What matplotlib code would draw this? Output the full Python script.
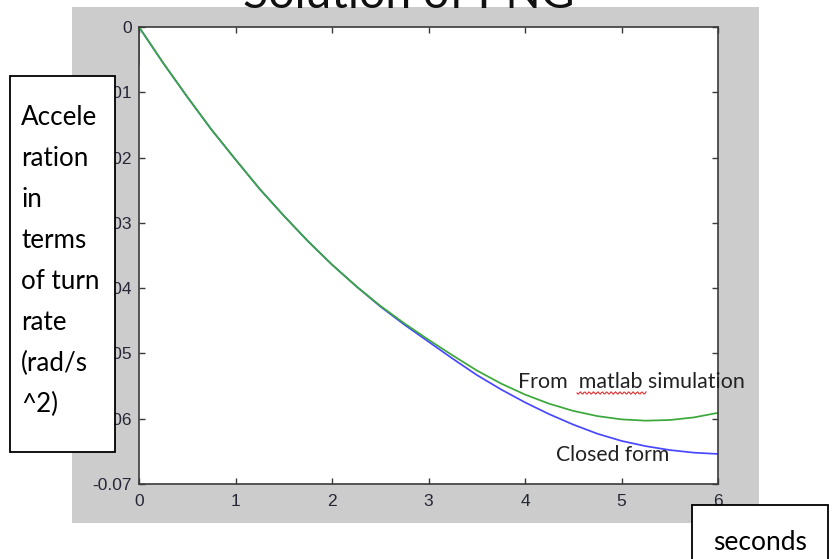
import numpy as np
import matplotlib
matplotlib.use("Agg")
import matplotlib.pyplot as plt
from matplotlib.patches import Rectangle
from matplotlib.lines import Line2D

# ---- data -------------------------------------------------------------
t_sim = [0.0, 0.0, 0.25, 0.5, 0.75, 1.0, 1.25, 1.5, 1.75, 2.0, 2.25, 2.5,
         2.75, 3.0, 3.25, 3.5, 3.75, 4.0, 4.25, 4.5, 4.75, 5.0, 5.25, 5.5,
         5.75, 6.0]
acc_sim = [-0.0058, 0.0, -0.0055, -0.0107, -0.0157, -0.0203, -0.0248,
           -0.0289, -0.0328, -0.0364, -0.0397, -0.0427, -0.0454, -0.0479,
           -0.0503, -0.0526, -0.0546, -0.0563, -0.0577, -0.0588, -0.0596,
           -0.0601, -0.0603, -0.0602, -0.0598, -0.0591]

t_closed = [0.0, 0.25, 0.5, 0.75, 1.0, 1.25, 1.5, 1.75, 2.0, 2.25, 2.5,
            2.75, 3.0, 3.25, 3.5, 3.75, 4.0, 4.25, 4.5, 4.75, 5.0, 5.25,
            5.5, 5.75, 6.0]
acc_closed = [0.0, -0.0055, -0.0107, -0.0157, -0.0203, -0.0248, -0.0289,
              -0.0328, -0.0364, -0.0397, -0.0428, -0.0456, -0.0482, -0.0508,
              -0.0533, -0.0555, -0.0575, -0.0593, -0.0609, -0.0623, -0.0634,
              -0.0642, -0.0648, -0.0652, -0.0654]

x_ticks = [0, 1, 2, 3, 4, 5, 6]
x_tick_labels = ["0", "1", "2", "3", "4", "5", "6"]
y_ticks = [0, -0.01, -0.02, -0.03, -0.04, -0.05, -0.06, -0.07]
y_tick_labels = ["0", "-0.01", "-0.02", "-0.03", "-0.04", "-0.05", "-0.06", "-0.07"]

title_text = "Solution of PNG"
ylabel_text = "Accele\nration\nin\nterms\nof turn\nrate\n(rad/s\n^2)"
xlabel_text = "seconds"
sim_label = "From  matlab simulation"
closed_label = "Closed form"

# ---- figure -----------------------------------------------------------
W, H = 838, 559
fig = plt.figure(figsize=(W / 100, H / 100), dpi=100, facecolor="white")


def fx(px):
    return px / W


def fy(py):
    return 1 - py / H


# grey figure panel
fig.patches.append(Rectangle((fx(72), fy(523)), fx(759) - fx(72), fy(7) - fy(523),
                             transform=fig.transFigure, facecolor="#cccccc",
                             edgecolor="none", zorder=0))

ax = fig.add_axes([fx(139), fy(484), fx(718) - fx(139), fy(27) - fy(484)])
ax.set_facecolor("white")
ax.set_zorder(1)

ax.plot(t_closed, acc_closed, color="#4848ff", lw=1.25, solid_capstyle="butt")
ax.plot(t_sim, acc_sim, color="#3aa83a", lw=1.25, solid_capstyle="butt")

ax.set_xlim(0, 6)
ax.set_ylim(-0.07, 0)
ax.set_xticks(x_ticks)
ax.set_xticklabels(x_tick_labels)
ax.set_yticks(y_ticks)
ax.set_yticklabels(y_tick_labels)

for s in ax.spines.values():
    s.set_color("#3a3a3a")
    s.set_linewidth(1.2)
ax.tick_params(direction="in", length=4.5, width=1.0, color="#3a3a3a",
               top=True, right=True, labelsize=12.5, labelcolor="#262636")
ax.tick_params(axis="x", pad=7)
ax.tick_params(axis="y", pad=5)
for lab in ax.get_xticklabels() + ax.get_yticklabels():
    lab.set_fontfamily("Liberation Sans")

# title, partly cut at the top edge
fig.text(fx(409), fy(8), title_text, ha="center", va="baseline",
         fontsize=33.4, family="Lato", color="#111111", zorder=5)

# in-plot annotations
fig.text(fx(518), fy(382), sim_label, ha="left", va="center",
         fontsize=15.4, family="Lato", color="#222222", zorder=5)
fig.text(fx(556), fy(455), closed_label, ha="left", va="center",
         fontsize=15.2, family="Lato", color="#222222", zorder=5)

# red spell-check squiggle under "matlab"
sq_x = np.linspace(577, 646, 60)
sq_y = 393 + 1.2 * np.sin((sq_x - 577) / 2.2 * np.pi)
fig.lines.append(Line2D(fx(sq_x), fy(sq_y), transform=fig.transFigure,
                        color="#e03030", lw=0.8, zorder=6))

# y-axis label box
fig.patches.append(Rectangle((fx(10), fy(452)), fx(115) - fx(10), fy(76) - fy(452),
                             transform=fig.transFigure, facecolor="white",
                             edgecolor="black", lw=1.3, zorder=4))
fig.text(fx(21), fy(105), ylabel_text, ha="left", va="top",
         fontsize=18.7, family="Lato", color="black", linespacing=1.8, zorder=5)

# x-axis label box
fig.patches.append(Rectangle((fx(692), fy(575)), fx(828) - fx(692), fy(505) - fy(575),
                             transform=fig.transFigure, facecolor="white",
                             edgecolor="black", lw=1.3, zorder=4))
fig.text(fx(713), fy(543), xlabel_text, ha="left", va="center",
         fontsize=19, family="Lato", color="black", zorder=5)

fig.savefig("out.png", dpi=100, facecolor="white")
